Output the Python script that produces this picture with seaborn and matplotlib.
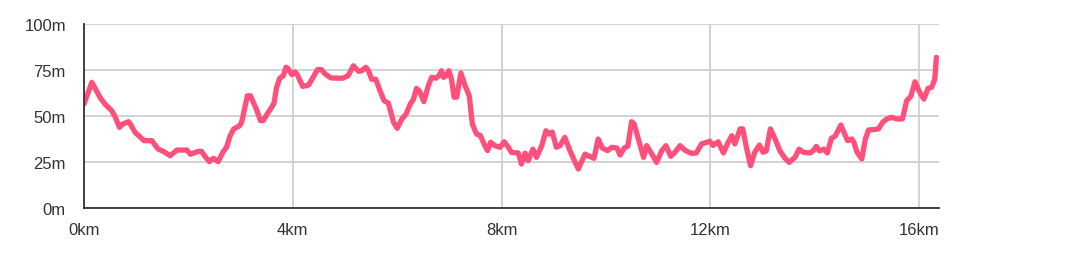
import matplotlib
matplotlib.use("Agg")
import matplotlib.pyplot as plt
import seaborn as sns
import pandas as pd

distance_km = [
    0.00, 0.15, 0.31, 0.40, 0.53, 0.59, 0.68, 0.74, 0.85, 0.88, 0.98, 1.02, 1.15, 1.30,
    1.42, 1.52, 1.65, 1.71, 1.78, 1.97, 2.04, 2.19, 2.25, 2.31, 2.40, 2.48, 2.57, 2.66,
    2.73, 2.80, 2.87, 2.98, 3.02, 3.13, 3.19, 3.30, 3.38, 3.43, 3.53, 3.59, 3.64, 3.69,
    3.75, 3.82, 3.87, 3.91, 3.98, 4.04, 4.08, 4.19, 4.30, 4.39, 4.47, 4.55, 4.62, 4.73,
    4.84, 4.95, 5.06, 5.16, 5.26, 5.32, 5.40, 5.45, 5.51, 5.59, 5.67, 5.75, 5.83, 5.93,
    6.00, 6.09, 6.17, 6.25, 6.31, 6.37, 6.43, 6.51, 6.60, 6.66, 6.75, 6.80, 6.85, 6.89,
    6.94, 6.99, 7.04, 7.09, 7.14, 7.22, 7.30, 7.38, 7.44, 7.52, 7.59, 7.68, 7.73, 7.79,
    7.87, 7.97, 8.05, 8.13, 8.19, 8.32, 8.38, 8.45, 8.51, 8.60, 8.67, 8.77, 8.85, 8.91,
    8.97, 9.05, 9.12, 9.21, 9.31, 9.41, 9.47, 9.54, 9.60, 9.68, 9.77, 9.85, 9.93, 10.03,
    10.11, 10.21, 10.27, 10.35, 10.42, 10.49, 10.54, 10.62, 10.72, 10.78, 10.88, 10.97,
    11.07, 11.15, 11.24, 11.32, 11.42, 11.52, 11.64, 11.73, 11.83, 11.93, 11.99, 12.05,
    12.15, 12.25, 12.34, 12.41, 12.47, 12.57, 12.62, 12.69, 12.77, 12.85, 12.94, 13.01,
    13.07, 13.15, 13.24, 13.33, 13.43, 13.51, 13.62, 13.70, 13.78, 13.91, 13.98, 14.03,
    14.09, 14.17, 14.24, 14.32, 14.39, 14.50, 14.56, 14.63, 14.71, 14.75, 14.81, 14.90,
    14.97, 15.03, 15.12, 15.22, 15.30, 15.38, 15.47, 15.57, 15.68, 15.76, 15.84, 15.92,
    16.01, 16.09, 16.17, 16.24, 16.30, 16.33,
]
elevation_m = [
    56.5, 68.3, 60.0, 56.5, 52.9, 50.0, 43.8, 45.6, 46.9, 46.0, 41.0, 40.0, 36.6, 36.6,
    32.0, 30.8, 28.4, 29.8, 31.5, 31.5, 29.2, 30.8, 30.8, 28.4, 25.2, 27.0, 25.2, 30.3,
    33.0, 39.3, 43.0, 44.7, 46.6, 61.0, 61.0, 53.8, 47.5, 47.5, 52.0, 54.5, 57.0, 65.6,
    70.5, 72.0, 76.5, 75.8, 72.5, 74.0, 72.8, 66.1, 66.8, 71.0, 75.2, 75.2, 72.8, 70.7,
    70.6, 70.5, 71.9, 77.3, 74.3, 74.6, 76.5, 74.6, 70.0, 70.0, 63.8, 58.3, 57.0, 46.6,
    43.3, 48.4, 51.0, 56.5, 59.0, 65.0, 63.4, 57.8, 66.8, 71.0, 70.6, 72.0, 74.6, 71.0,
    71.9, 74.6, 70.0, 60.2, 60.2, 73.4, 66.5, 61.0, 45.6, 40.2, 39.5, 33.9, 31.2, 35.7,
    33.9, 33.0, 36.0, 33.0, 30.2, 29.9, 23.9, 29.8, 25.7, 32.0, 27.5, 33.9, 42.0, 40.2,
    41.3, 33.0, 33.9, 38.4, 31.2, 24.8, 21.2, 25.7, 29.3, 28.1, 27.0, 37.5, 32.6, 31.2,
    33.0, 32.6, 28.8, 32.6, 33.7, 46.9, 45.7, 37.5, 27.5, 33.9, 29.3, 24.8,
    31.2, 33.9, 28.1, 30.2, 33.9, 31.2, 29.7, 29.9, 34.8, 35.7, 36.3, 34.0,
    36.0, 29.9, 35.7, 39.3, 34.8, 43.0, 43.0, 33.0, 23.0, 30.3, 34.2, 30.3,
    31.0, 43.0, 37.5, 31.2, 27.0, 24.8, 27.5, 32.0, 30.3, 29.9, 31.5, 33.5,
    31.0, 32.0, 29.9, 37.9, 39.0, 45.1, 41.1, 36.6, 37.5, 35.7, 30.3, 26.6,
    37.5, 42.4, 42.6, 43.0, 46.6, 48.4, 49.3, 48.4, 48.4, 58.3, 60.7, 68.6,
    62.9, 59.2, 65.0, 65.6, 70.1, 81.9,
]
x_ticks = [0, 4, 8, 12, 16]
x_tick_labels = ["0km", "4km", "8km", "12km", "16km"]
y_ticks = [0, 25, 50, 75, 100]
y_tick_labels = ["0m", "25m", "50m", "75m", "100m"]

df = pd.DataFrame({"distance": distance_km, "elevation": elevation_m})

sns.set_style("white")
plt.rcParams["font.family"] = ["Liberation Sans", "DejaVu Sans"]

fig = plt.figure(figsize=(10.7, 2.55), dpi=100)
ax = fig.add_axes([84 / 1070, (255 - 209) / 255, (939 - 84) / 1070, (209 - 25) / 255])

sns.lineplot(data=df, x="distance", y="elevation", sort=False, ax=ax,
             color="#ff4f7b", linewidth=3.8, solid_joinstyle="round", zorder=3)

ax.set_xlim(0, 16.38)
ax.set_ylim(0, 100)
ax.set_xticks(x_ticks)
ax.set_xticklabels(x_tick_labels)
ax.set_yticks(y_ticks)
ax.set_yticklabels(y_tick_labels)
ax.set_xlabel("")
ax.set_ylabel("")

ax.grid(True, color="#cccccc", linewidth=1.2, zorder=0)
ax.set_axisbelow(True)
for s in ["top", "right"]:
    ax.spines[s].set_visible(False)
for s in ["left", "bottom"]:
    ax.spines[s].set_color("#333333")
    ax.spines[s].set_linewidth(1.3)
    ax.spines[s].set_zorder(4)

ax.tick_params(axis="both", length=0, labelsize=12, labelcolor="#333333")
ax.tick_params(axis="y", pad=13)
ax.tick_params(axis="x", pad=10)

fig.savefig("out.png", dpi=100)
